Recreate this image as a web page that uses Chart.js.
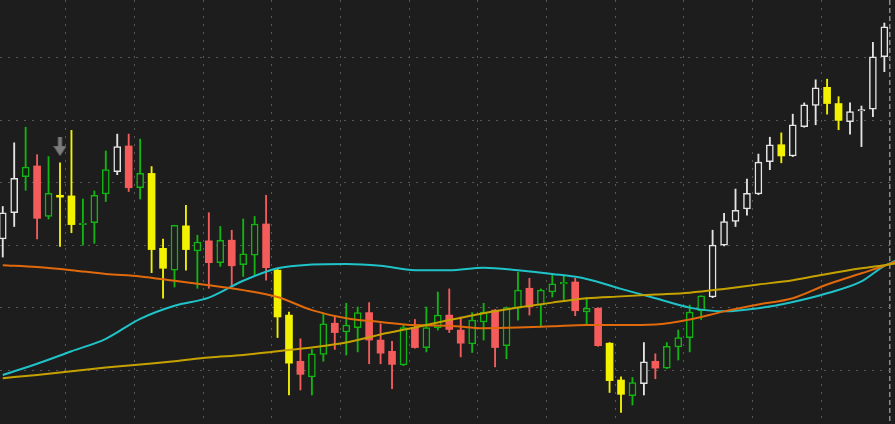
<!DOCTYPE html>
<html>
<head>
<meta charset="utf-8">
<title>Candles</title>
<script src="https://cdn.jsdelivr.net/npm/chart.js@4.4.1/dist/chart.umd.min.js"></script>
<style>
    html, body { margin: 0; padding: 0; background: #1d1d1d; overflow: hidden; }
    #wrap { width: 895px; height: 424px; position: relative; }
</style>
</head>
<body>
<div id="wrap"><canvas id="price_chart"></canvas></div>
<script>

// candle values, oldest first
let open_data  = [22.10, 22.52, 23.10, 23.27, 22.46, 22.80, 22.79, 22.33, 22.36, 22.82,
                  23.18, 23.59, 22.92, 23.15, 21.95, 21.60, 22.31, 21.91, 22.07, 21.72,
                  22.08, 21.69, 21.84, 22.34, 21.60, 20.88, 20.14, 19.89, 20.25, 20.75,
                  20.61, 20.68, 20.92, 20.48, 20.30, 20.08, 20.68, 20.36, 20.68, 20.88,
                  20.64, 20.42, 20.77, 20.96, 20.39, 20.99, 21.31, 21.04, 21.25, 21.38,
                  21.41, 20.93, 20.99, 20.43, 19.84, 19.59, 19.78, 20.14, 20.03, 20.37,
                  20.52, 20.95, 21.17, 22.00, 22.38, 22.58, 22.82, 23.34, 23.61, 23.43,
                  23.90, 24.24, 24.53, 24.27, 23.98, 24.15, 24.18, 25.02];

let high_data  = [22.62, 23.64, 23.89, 23.45, 23.42, 23.32, 23.84, 22.74, 22.87, 23.51,
                  23.78, 23.78, 23.70, 23.26, 22.10, 22.32, 22.64, 22.16, 22.52, 22.30,
                  22.24, 22.42, 22.46, 22.80, 21.62, 20.93, 20.50, 20.33, 20.91, 20.87,
                  21.07, 21.01, 21.08, 20.74, 20.46, 20.72, 20.81, 21.01, 21.25, 21.30,
                  20.85, 20.92, 21.07, 20.97, 21.01, 21.57, 21.47, 21.30, 21.52, 21.52,
                  21.47, 21.16, 21.00, 20.44, 19.89, 19.88, 20.44, 20.26, 20.44, 20.64,
                  21.04, 21.19, 22.24, 22.51, 22.90, 23.06, 23.46, 23.73, 23.80, 24.10,
                  24.28, 24.65, 24.66, 24.38, 24.28, 24.23, 25.25, 25.56];

let low_data   = [21.81, 22.30, 22.88, 22.10, 22.42, 21.98, 22.20, 22.00, 22.03, 22.70,
                  23.13, 22.86, 22.74, 21.56, 21.15, 21.33, 21.60, 21.31, 21.31, 21.66,
                  21.33, 21.50, 21.52, 21.44, 20.52, 19.60, 19.68, 19.60, 20.14, 20.33,
                  20.24, 20.29, 20.10, 20.10, 19.70, 20.07, 20.35, 20.29, 20.64, 20.60,
                  20.21, 20.28, 20.48, 20.05, 20.18, 20.80, 20.88, 20.69, 21.17, 21.13,
                  20.87, 20.73, 20.38, 19.64, 19.32, 19.44, 19.60, 19.86, 20.02, 20.16,
                  20.29, 20.81, 21.16, 21.99, 22.30, 22.48, 22.81, 23.21, 23.32, 23.42,
                  23.89, 23.93, 24.10, 23.85, 23.78, 23.58, 24.06, 24.78];

let close_data = [22.52, 23.07, 23.25, 22.43, 22.83, 22.77, 22.33, 22.34, 22.80, 23.21,
                  23.58, 22.92, 23.15, 21.93, 21.63, 22.32, 21.93, 22.05, 21.72, 22.08,
                  21.67, 21.86, 22.34, 21.64, 20.85, 20.11, 19.93, 20.26, 20.74, 20.60,
                  20.72, 20.92, 20.48, 20.27, 20.09, 20.68, 20.36, 20.68, 20.88, 20.65,
                  20.43, 20.80, 20.93, 20.36, 21.00, 21.28, 21.01, 21.28, 21.38, 21.40,
                  20.95, 20.99, 20.39, 19.83, 19.61, 19.80, 20.13, 20.03, 20.38, 20.52,
                  20.93, 21.19, 22.00, 22.38, 22.56, 22.83, 23.33, 23.61, 23.43, 23.93,
                  24.25, 24.52, 24.27, 24.00, 24.14, 24.17, 25.02, 25.50];

// 1 = white / yellow candle set, 0 = green / red candle set
let tone_data  = [1, 1, 0, 0, 0, 1, 1, 0, 0, 0,
                  1, 0, 0, 1, 1, 0, 1, 0, 0, 0,
                  0, 0, 0, 0, 1, 1, 0, 0, 0, 0,
                  0, 0, 0, 0, 0, 0, 0, 0, 0, 0,
                  0, 0, 0, 0, 0, 0, 0, 0, 0, 0,
                  0, 0, 0, 1, 1, 0, 1, 0, 0, 0,
                  0, 0, 1, 1, 1, 1, 1, 1, 1, 1,
                  1, 1, 1, 1, 1, 1, 1, 1];

// moving averages, read at every third candle
let ma_index  = [0, 3, 6, 9, 12, 15, 18, 21, 24, 27, 30, 33, 36, 39,
                 42, 45, 48, 51, 54, 57, 60, 63, 66, 69, 72, 75, 77, 78];
let ma_cyan   = [19.92, 20.10, 20.30, 20.50, 20.82, 21.03, 21.16, 21.43, 21.63, 21.69, 21.70, 21.67, 21.60, 21.60,
                 21.64, 21.60, 21.54, 21.46, 21.30, 21.15, 21.00, 20.94, 20.99, 21.09, 21.23, 21.42, 21.67, 21.75];
let ma_orange = [21.68, 21.65, 21.60, 21.54, 21.50, 21.43, 21.36, 21.28, 21.17, 20.96, 20.83, 20.77, 20.72, 20.71,
                 20.67, 20.68, 20.70, 20.72, 20.72, 20.73, 20.81, 20.94, 21.05, 21.15, 21.37, 21.55, 21.67, 21.74];
let ma_gold   = [19.87, 19.92, 19.98, 20.04, 20.09, 20.14, 20.20, 20.24, 20.30, 20.36, 20.44, 20.57, 20.68, 20.80,
                 20.91, 21.00, 21.08, 21.15, 21.18, 21.21, 21.24, 21.30, 21.37, 21.44, 21.54, 21.63, 21.68, 21.71];

// signal arrow above a candle
let signal_index = [5];
let signal_price = [23.58];

// grid steps
let grid_x_step = 6;
let grid_y_step = 1;
let today_line = 78;


// colours
const bg_color = '#1d1d1d';
const up_a = '#e4e4e4', down_a = '#f2f200';
const up_b = '#12b412', down_b = '#f45c5c';

function candle_color(i) {
    let up = close_data[i] >= open_data[i];
    if (tone_data[i] === 1) return up ? up_a : down_a;
    return up ? up_b : down_b;
}

let wick_points = open_data.map((v, i) => ({ x: i + 0.5, y: [low_data[i], high_data[i]] }));
let body_points = open_data.map((v, i) => ({ x: i + 0.5, y: [open_data[i], close_data[i]] }));

function ma_points(values) {
    return values.map((v, k) => ({ x: ma_index[k] + 0.5, y: v }));
}

let signal_points = signal_index.map((v, k) => ({ x: v + 0.5, y: signal_price[k] }));


// little down arrow used as point style
let arrow = document.createElement('canvas');
arrow.width = 13;
arrow.height = 19;
let g = arrow.getContext('2d');
g.fillStyle = '#7c7c7c';
g.fillRect(4.5, 0, 4, 10);
g.beginPath();
g.moveTo(0, 9);
g.lineTo(13, 9);
g.lineTo(6.5, 19);
g.closePath();
g.fill();


let chart_data = new Chart(document.getElementById('price_chart'), {

    type: 'bar',

    data: {
        datasets: [

            // wicks
            {
                data: wick_points,
                grouped: false,
                barThickness: 1.2,
                backgroundColor: (ctx) => candle_color(ctx.dataIndex),
                borderWidth: 0,
                order: 3
            },

            // bodies
            {
                data: body_points,
                grouped: false,
                barThickness: 7,
                minBarLength: 1.5,
                borderSkipped: false,
                backgroundColor: function(ctx) {
                    let i = ctx.dataIndex;
                    return close_data[i] >= open_data[i] ? bg_color : candle_color(i);
                },
                borderColor: (ctx) => candle_color(ctx.dataIndex),
                borderWidth: function(ctx) {
                    let i = ctx.dataIndex;
                    return close_data[i] >= open_data[i] ? 1.5 : 0;
                },
                order: 2
            },

            // moving averages
            {
                type: 'line',
                data: ma_points(ma_gold),
                borderColor: '#c6a200',
                borderWidth: 2,
                pointRadius: 0,
                cubicInterpolationMode: 'monotone',
                order: 1
            },
            {
                type: 'line',
                data: ma_points(ma_orange),
                borderColor: '#e0690c',
                borderWidth: 2,
                pointRadius: 0,
                cubicInterpolationMode: 'monotone',
                order: 1
            },
            {
                type: 'line',
                data: ma_points(ma_cyan),
                borderColor: '#1fc3c8',
                borderWidth: 2,
                pointRadius: 0,
                cubicInterpolationMode: 'monotone',
                order: 1
            },

            // signal arrow
            {
                type: 'scatter',
                data: signal_points,
                pointStyle: arrow,
                pointRadius: 8,
                order: 0
            }
        ]
    },

    options: {
        responsive: true,
        maintainAspectRatio: false,
        animation: false,
        layout: { padding: 0, autoPadding: false },

        plugins: {
            legend: { display: false },
            tooltip: { enabled: false }
        },

        scales: {
            x: {
                type: 'linear',
                min: 0.26,
                max: 78.43,
                offset: false,
                ticks: { display: false, stepSize: grid_x_step, includeBounds: false },
                grid: {
                    offset: false,
                    drawTicks: false,
                    color: (ctx) => ctx.tick && ctx.tick.value === today_line ? '#8a8a8a' : '#575757',
                    lineWidth: (ctx) => ctx.tick && ctx.tick.value === today_line ? 1.5 : 1
                },
                border: {
                    display: false,
                    dash: (ctx) => ctx.tick && ctx.tick.value === today_line ? [5, 3] : [2, 6]
                }
            },
            y: {
                type: 'linear',
                min: 19.135,
                max: 25.929,
                ticks: { display: false, stepSize: grid_y_step, includeBounds: false },
                grid: {
                    drawTicks: false,
                    color: '#575757',
                    lineWidth: 1
                },
                border: { display: false, dash: [2, 6] }
            }
        }
    }
});

</script>
</body>
</html>
